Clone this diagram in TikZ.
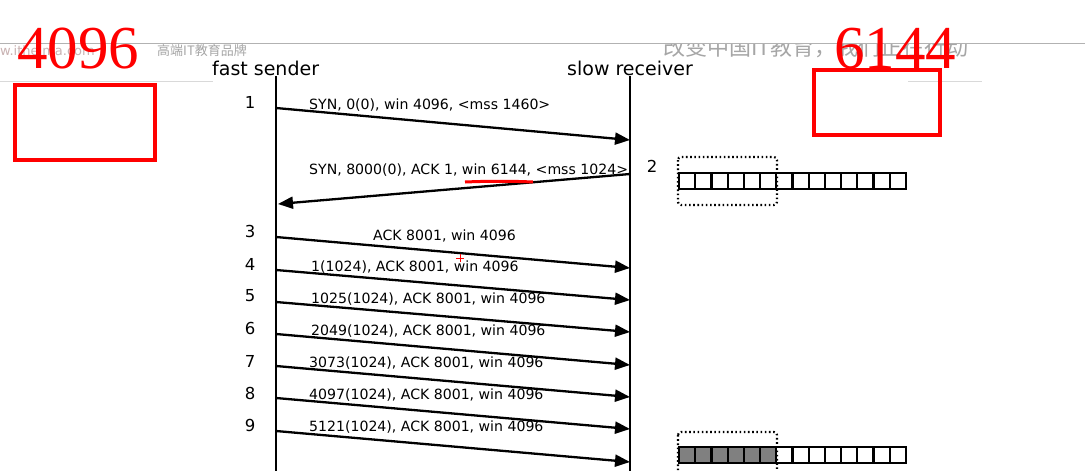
\documentclass[tikz,border=0pt]{standalone}
\usepackage{fontspec}
\setmainfont{DejaVu Sans}
\newfontfamily\redserif{Liberation Serif}
\newfontfamily\cjkfont{Noto Sans CJK SC}
\usetikzlibrary{arrows.meta}
\tikzset{
  life/.style={line width=2.3pt},
  msg/.style={line width=2.3pt, -{Triangle[length=15pt,width=12pt]}},
  msglabel/.style={anchor=base west, inner sep=0pt, font=\fontsize{14.1}{15}\selectfont},
  stepnum/.style={inner sep=0pt, font=\fontsize{16.5}{17}\selectfont},
  title/.style={anchor=base west, inner sep=0pt, font=\fontsize{19}{20}\selectfont},
  bignum/.style={anchor=base west, inner sep=0pt, text=red, font=\redserif\fontsize{61}{61}\selectfont},
  redbox/.style={draw=red, line width=4pt},
  cell/.style={line width=2.2pt},
  winbox/.style={line width=2.2pt, dash pattern=on 1.6pt off 2.6pt, rounded corners=3pt},
  wmark/.style={inner sep=0pt, text=black!35}
}
\begin{document}
\begin{tikzpicture}[x=1pt,y=-1pt]
\useasboundingbox (0,0) rectangle (1085,471);
\clip (0,0) rectangle (1085,471);
\fill[white] (0,0) rectangle (1085,471);

% background rules of the screenshot
\draw[black!30, line width=1pt] (0,43) -- (1085,43);
\draw[black!15, line width=1pt] (0,81) -- (213,81);
\draw[black!15, line width=1pt] (908,81) -- (982,81);

% watermark
\node[wmark, anchor=base east, text=red!30!black!30, font=\fontsize{13}{13}\selectfont] (wm1) at (95,55) {www.itheima.com};
\node[wmark, anchor=base east, font=\cjkfont\fontsize{13}{13}\selectfont] (wm2) at (247,55) {高端IT教育品牌};
\begin{scope}
\clip (0,44) rectangle (1085,471);
\node[wmark, anchor=base west, font=\cjkfont\fontsize{22}{22}\selectfont] (wm3) at (663,55) {改变中国IT教育，我们正在行动};
\end{scope}

% red annotations
\node[bignum] (n4096) at (17,68) {4096};
\node[bignum] (n6144) at (834,68) {6144};
\draw[redbox] (15,85) rectangle (155,160);
\draw[redbox] (814,70) rectangle (940,135);

% titles
\node[title] (fs) at (212,75) {fast sender};
\node[title] (sr) at (567,75) {slow receiver};

% lifelines
\coordinate (stop) at (276,76);
\coordinate (sbot) at (276,471);
\coordinate (rtop) at (630,76);
\coordinate (rbot) at (630,471);
\draw[life] (stop) -- (sbot);
\draw[life] (rtop) -- (rbot);

% step numbers
\node[stepnum] (k1) at (250,102) {1};
\node[stepnum] (k2) at (652,166) {2};
\node[stepnum] (k3) at (250,231) {3};
\node[stepnum] (k4) at (250,264) {4};
\node[stepnum] (k5) at (250,296) {5};
\node[stepnum] (k6) at (250,328) {6};
\node[stepnum] (k7) at (250,361) {7};
\node[stepnum] (k8) at (250,393) {8};
\node[stepnum] (k9) at (250,425) {9};

% message end points
\coordinate (a1) at (276,108); \coordinate (b1) at (630,140);
\coordinate (a2) at (630,174); \coordinate (b2) at (278,204);
\coordinate (a3) at (276,237); \coordinate (b3) at (630,268);
\coordinate (a4) at (276,270); \coordinate (b4) at (630,300);
\coordinate (a5) at (276,302); \coordinate (b5) at (630,332);
\coordinate (a6) at (276,334); \coordinate (b6) at (630,365);
\coordinate (a7) at (276,366); \coordinate (b7) at (630,397);
\coordinate (a8) at (276,398); \coordinate (b8) at (630,429);
\coordinate (a9) at (276,431); \coordinate (b9) at (630,462);
\foreach \i in {1,...,9} { \draw[msg] (a\i) -- (b\i); }

% labels
\node[msglabel] (l1) at (309,109) {SYN, 0(0), win 4096, <mss 1460>};
\node[msglabel] (l2) at (309,174) {SYN, 8000(0), ACK 1, win 6144, <mss 1024>};
\node[msglabel] (l3) at (373,240) {ACK 8001, win 4096};
\node[msglabel] (l4) at (311,271) {1(1024), ACK 8001, win 4096};
\node[msglabel] (l5) at (311,303) {1025(1024), ACK 8001, win 4096};
\node[msglabel] (l6) at (311,335) {2049(1024), ACK 8001, win 4096};
\node[msglabel] (l7) at (309,367) {3073(1024), ACK 8001, win 4096};
\node[msglabel] (l8) at (309,399) {4097(1024), ACK 8001, win 4096};
\node[msglabel] (l9) at (309,431) {5121(1024), ACK 8001, win 4096};

% red underline and cursor
\draw[red, line width=3pt] (465,182) .. controls (490,181) and (510,181) .. (533,182);
\draw[red, line width=1pt] (456,258) -- (464,258) (460,254) -- (460,262);

% receive buffers
\foreach \i in {0,...,13} {
  \draw[cell] ({679+\i*16.2},173) rectangle ++(16.2,16);
}
\foreach \i in {0,...,5} {
  \fill[black!50] ({679+\i*16.2},447) rectangle ++(16.2,16);
}
\foreach \i in {0,...,13} {
  \draw[cell] ({679+\i*16.2},447) rectangle ++(16.2,16);
}
\draw[winbox] (678,157) rectangle (777,205);
\draw[winbox] (678,432) rectangle (777,490);
\end{tikzpicture}
\end{document}
